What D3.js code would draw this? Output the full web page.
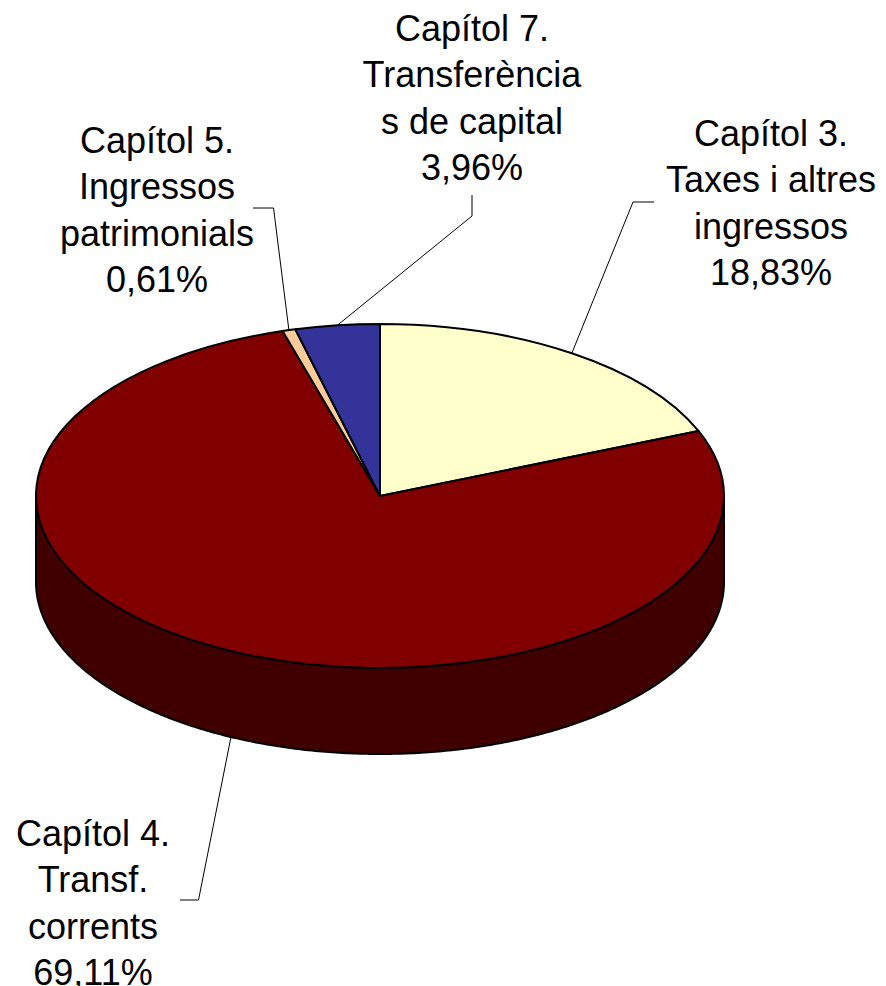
<!DOCTYPE html>
<html>
<head>
<meta charset="utf-8">
<script src="https://cdn.jsdelivr.net/npm/d3@7"></script>
<style>
  html, body { margin: 0; padding: 0; background: #fff; }
  svg { display: block; }
  text { font-family: "Liberation Sans", Arial, sans-serif; font-size: 36px; fill: #000; }
</style>
</head>
<body>
<div id="chart"></div>
<script>
var categories = ["Capítol 3", "Capítol 4", "Capítol 5", "Capítol 7"];

// share of the circle as drawn. The printed labels add up to 92.51 only and the
// red slice is drawn larger than its label says, so the two are kept apart
var drawnShare = [18.83, 76.60, 0.61, 3.96];

var labelLines = [
  ["Capítol 3.", "Taxes i altres", "ingressos", "18,83%"],
  ["Capítol 4.", "Transf.", "corrents", "69,11%"],
  ["Capítol 5.", "Ingressos", "patrimonials", "0,61%"],
  ["Capítol 7.", "Transferència", "s de capital", "3,96%"]
];

var topColors = ["#ffffcc", "#800000", "#ffcc99", "#333399"];
var sideColors = ["#808066", "#400000", "#806650", "#1a1a4d"];

var width = 886,
  height = 986,
  cx = 380,
  cy = 496,
  rx = 344,
  tilt = 0.5,
  depth = 86,
  lineHeight = 46.3;

// label anchor (middle of text), first baseline and the elbow of the leader
var labelPos = [
  {x: 771, y: 146, leader: [[654, 202], [633, 202]]},
  {x: 93, y: 846, leader: [[180, 900], [198.5, 900]]},
  {x: 157, y: 153, leader: [[253, 208], [273.5, 208]]},
  {x: 472, y: 41, leader: [[472, 195], [472, 216]]}
];

var svg = d3.select("#chart").append("svg")
  .attr("width", width)
  .attr("height", height);

var pie = d3.pie().sort(null).value(function(d){ return d; });
var slices = pie(drawnShare);

var arc = d3.arc().innerRadius(0).outerRadius(rx);

// a point on the top rim for a given angle (0 = north, clockwise)
var rimX = function(a) { return cx + rx * Math.sin(a); };
var rimY = function(a) { return cy - rx * tilt * Math.cos(a); };

var side = d3.area()
  .x(rimX)
  .y0(rimY)
  .y1(function(a){ return rimY(a) + depth; });

// only the front half of the wall shows
slices.forEach(function(s, i) {
  var a0 = Math.max(s.startAngle, Math.PI / 2),
      a1 = Math.min(s.endAngle, Math.PI * 1.5);
  if (a1 <= a0) return;
  var angles = d3.range(a0, a1, 0.01).concat([a1]);
  svg.append("path")
    .datum(angles)
    .attr("d", side)
    .style("fill", sideColors[i])
    .style("stroke", "#000")
    .style("stroke-width", 2);
});

svg.append("g")
  .attr("transform", "translate(" + cx + "," + cy + ") scale(1," + tilt + ")")
  .selectAll("path")
  .data(slices)
  .enter()
  .append("path")
  .attr("d", arc)
  .attr("vector-effect", "non-scaling-stroke")
  .style("fill", function(d, i){ return topColors[i]; })
  .style("stroke", "#000")
  .style("stroke-width", 2)
  .style("stroke-linejoin", "round");

// leaders run from the elbow to the rim at the slice's mid angle
var leader = d3.line();
slices.forEach(function(s, i) {
  var mid = (s.startAngle + s.endAngle) / 2,
      front = Math.cos(mid) < 0 ? depth : 0,
      pts = labelPos[i].leader.concat([[rimX(mid), rimY(mid) + front]]);
  svg.append("path")
    .attr("d", leader(pts))
    .style("fill", "none")
    .style("stroke", "#000")
    .style("stroke-width", 1);
});

svg.selectAll("text.label")
  .data(labelLines)
  .enter()
  .append("text")
  .attr("class", "label")
  .attr("text-anchor", "middle")
  .each(function(lines, i) {
    d3.select(this).selectAll("tspan")
      .data(lines)
      .enter()
      .append("tspan")
      .attr("x", labelPos[i].x)
      .attr("y", function(d, j){ return labelPos[i].y + j * lineHeight; })
      .text(function(d){ return d; });
  });
</script>
</body>
</html>
